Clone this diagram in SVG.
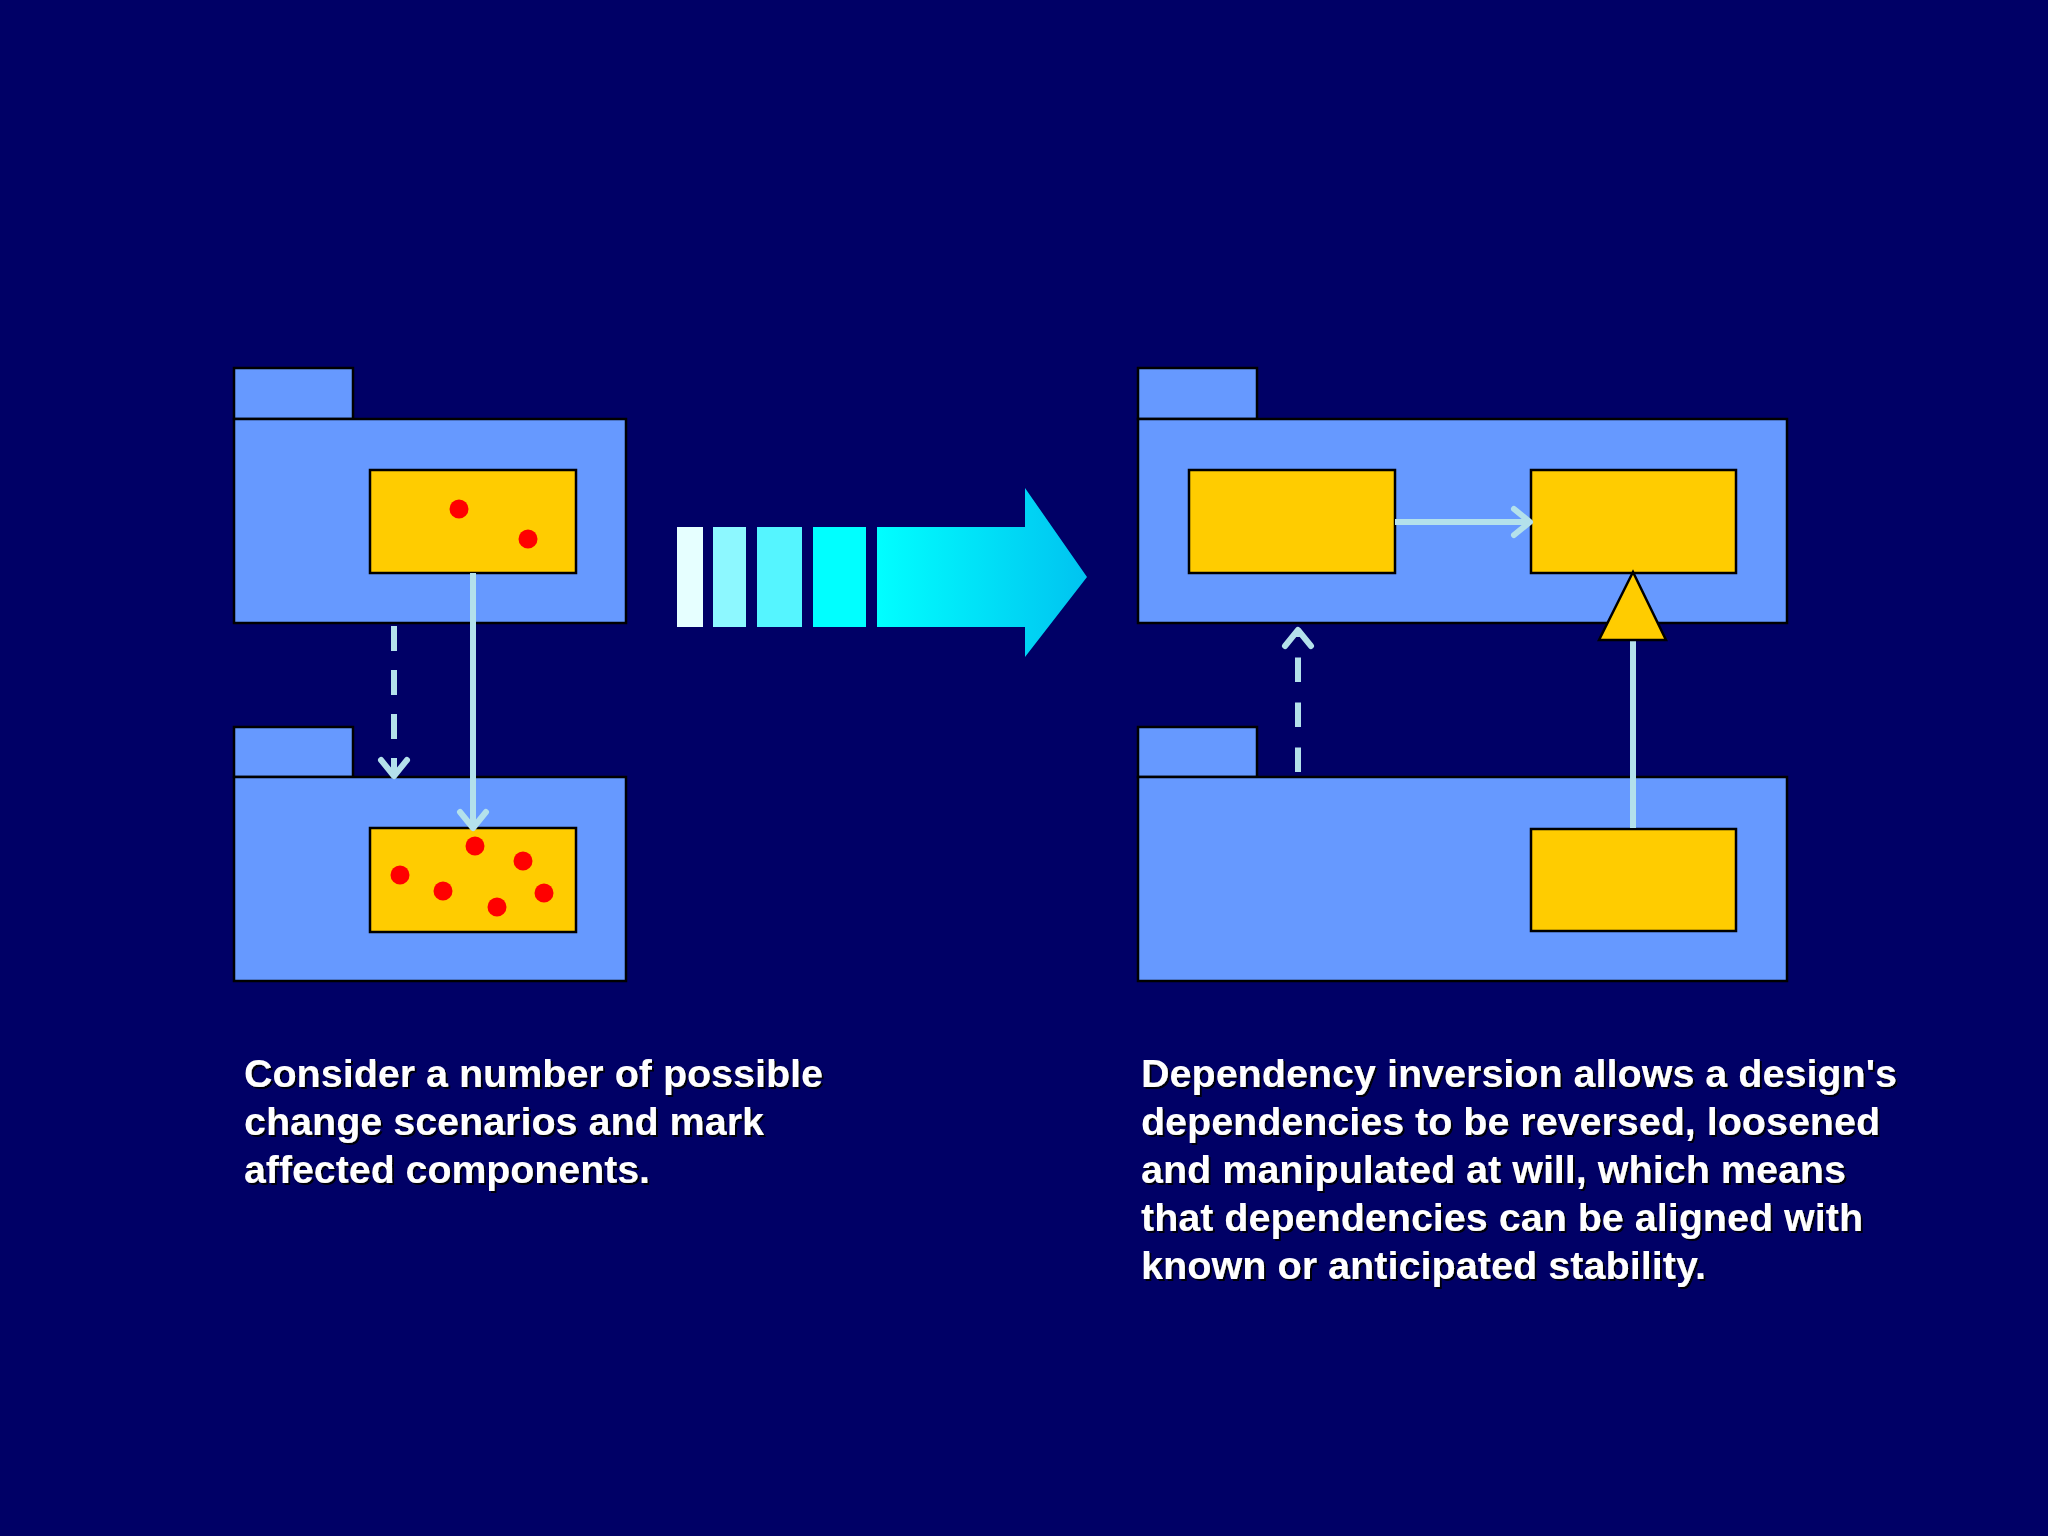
<svg xmlns="http://www.w3.org/2000/svg" width="2048" height="1536" viewBox="0 0 2048 1536">
<style>
.pkg{fill:#6699FF;stroke:#000;stroke-width:2.5}
.comp{fill:#FFCC00;stroke:#000;stroke-width:2.5}
.dot{fill:#FF0000}
.dep{fill:none;stroke:#B4E1EB;stroke-width:6}
.dash{stroke-dasharray:25 19}
.txt{font-family:"Liberation Sans",Arial,sans-serif;font-weight:bold;font-size:38px;fill:#FFFFFF;filter:url(#shadow)}
</style>
<defs>
<marker id="open" markerUnits="userSpaceOnUse" markerWidth="40" markerHeight="40" refX="0" refY="0" orient="auto" overflow="visible" viewBox="-20 -20 40 40">
<path d="M-16,-13 L0,0 L-16,13" fill="none" stroke="#B4E1EB" stroke-width="6" stroke-linecap="round" stroke-linejoin="round"/>
</marker>
<linearGradient id="bigArrow" gradientUnits="userSpaceOnUse" x1="877" y1="0" x2="1087" y2="0">
<stop offset="0" stop-color="#00FFFF"/>
<stop offset="1" stop-color="#00C3F0"/>
</linearGradient>
<filter id="shadow" x="-5%" y="-20%" width="110%" height="140%">
<feDropShadow dx="2" dy="2" stdDeviation="0.6" flood-color="#000000" flood-opacity="0.9"/>
</filter>
</defs>
<rect x="0" y="0" width="2048" height="1536" fill="#000066"/>

<g id="left-top-package">
<rect class="pkg" x="234" y="368" width="119" height="51"/>
<rect class="pkg" x="234" y="419" width="392" height="204"/>
</g>
<g id="left-top-component">
<rect class="comp" x="370" y="470" width="206" height="103"/>
<circle class="dot" cx="459" cy="509" r="9.5"/>
<circle class="dot" cx="528" cy="539" r="9.5"/>
</g>
<g id="left-bottom-package">
<rect class="pkg" x="234" y="727" width="119" height="50"/>
<rect class="pkg" x="234" y="777" width="392" height="204"/>
</g>
<g id="left-bottom-component">
<rect class="comp" x="370" y="828" width="206" height="104"/>
<circle class="dot" cx="400" cy="875" r="9.5"/>
<circle class="dot" cx="443" cy="891" r="9.5"/>
<circle class="dot" cx="475" cy="846" r="9.5"/>
<circle class="dot" cx="523" cy="861" r="9.5"/>
<circle class="dot" cx="497" cy="907" r="9.5"/>
<circle class="dot" cx="544" cy="893" r="9.5"/>
</g>

<g id="transition-arrow">
<rect x="677" y="527" width="26" height="100" fill="#E6FFFF"/>
<rect x="713" y="527" width="33" height="100" fill="#8DF8FF"/>
<rect x="757" y="527" width="45" height="100" fill="#55F5FF"/>
<rect x="813" y="527" width="53" height="100" fill="#00FFFF"/>
<polygon points="877,527 1025,527 1025,488 1087,577 1025,657 1025,627 877,627" fill="url(#bigArrow)"/>
</g>

<g id="right-top-package">
<rect class="pkg" x="1138" y="368" width="119" height="51"/>
<rect class="pkg" x="1138" y="419" width="649" height="204"/>
</g>
<g id="right-top-client">
<rect class="comp" x="1189" y="470" width="206" height="103"/>
</g>
<g id="right-top-interface">
<rect class="comp" x="1531" y="470" width="205" height="103"/>
</g>
<g id="right-bottom-package">
<rect class="pkg" x="1138" y="727" width="119" height="50"/>
<rect class="pkg" x="1138" y="777" width="649" height="204"/>
</g>
<g id="right-bottom-impl">
<rect class="comp" x="1531" y="829" width="205" height="102"/>
</g>

<g id="connectors">
<line class="dep dash" x1="394" y1="626" x2="394" y2="776" marker-end="url(#open)"/>
<line class="dep" x1="473" y1="573" x2="473" y2="828" marker-end="url(#open)"/>
<line class="dep" x1="1395" y1="522" x2="1530" y2="522" marker-end="url(#open)"/>
<line class="dep dash" x1="1298" y1="772" x2="1298" y2="630" marker-end="url(#open)" style="stroke-dasharray:24.5 20.5"/>
<line class="dep" x1="1633" y1="828" x2="1633" y2="640"/>
<polygon points="1633,572 1599,640 1666,640" class="comp"/>
</g>

<g id="caption-left">
<text class="txt" x="244" y="1087" textLength="579" lengthAdjust="spacingAndGlyphs">Consider a number of possible</text>
<text class="txt" x="244" y="1135" textLength="520" lengthAdjust="spacingAndGlyphs">change scenarios and mark</text>
<text class="txt" x="244" y="1183" textLength="406" lengthAdjust="spacingAndGlyphs">affected components.</text>
</g>
<g id="caption-right">
<text class="txt" x="1141" y="1087" textLength="756" lengthAdjust="spacingAndGlyphs">Dependency inversion allows a design's</text>
<text class="txt" x="1141" y="1135" textLength="739" lengthAdjust="spacingAndGlyphs">dependencies to be reversed, loosened</text>
<text class="txt" x="1141" y="1183" textLength="705" lengthAdjust="spacingAndGlyphs">and manipulated at will, which means</text>
<text class="txt" x="1141" y="1231" textLength="722" lengthAdjust="spacingAndGlyphs">that dependencies can be aligned with</text>
<text class="txt" x="1141" y="1279" textLength="565" lengthAdjust="spacingAndGlyphs">known or anticipated stability.</text>
</g>
</svg>
